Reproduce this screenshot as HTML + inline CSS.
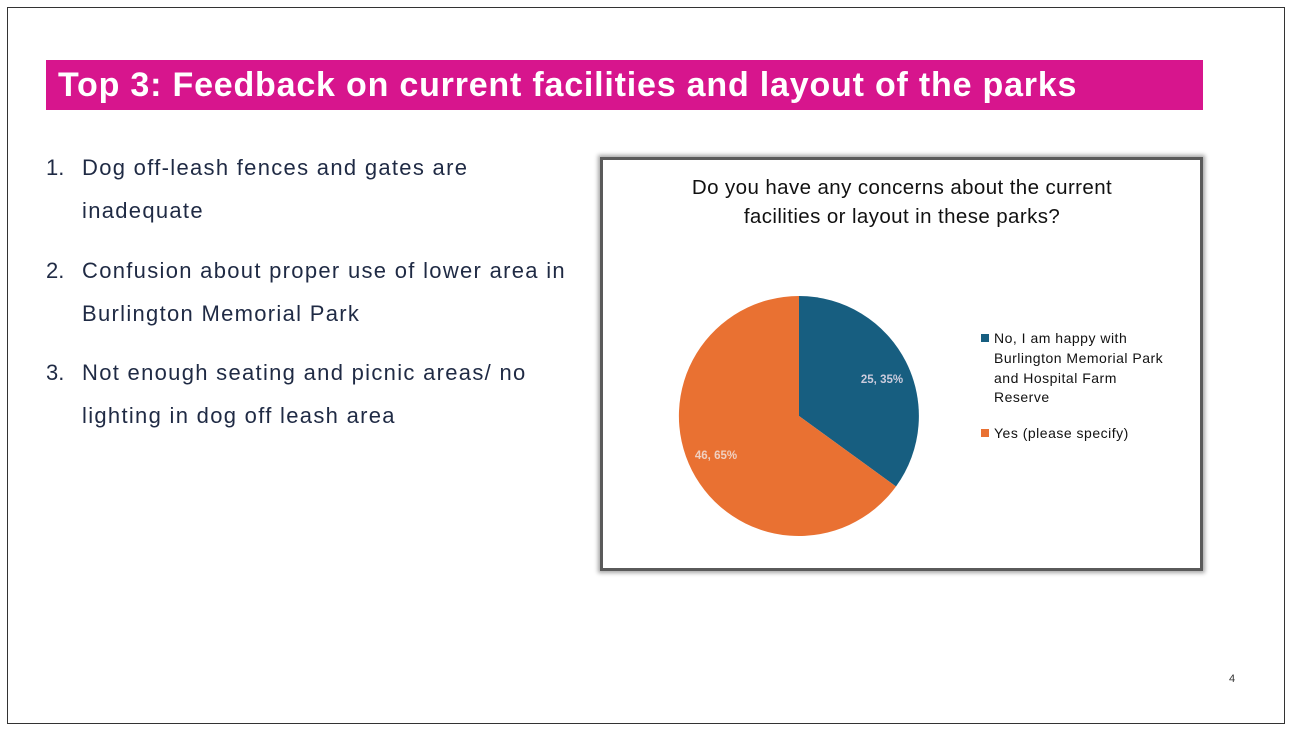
<!DOCTYPE html>
<html><head><style>
body{margin:0;width:1290px;height:730px;background:#fff;position:relative;font-family:"Liberation Sans",sans-serif;overflow:hidden}
.slide{position:absolute;left:7px;top:7px;width:1278px;height:717px;border:1px solid #333;box-sizing:border-box}
.title{position:absolute;left:46px;top:60px;width:1157px;height:50px;background:#D7158D;color:#fff;font-weight:bold;font-size:34px;line-height:50px;padding-left:12px;box-sizing:border-box;letter-spacing:0.8px;white-space:nowrap}
.item{position:absolute;left:46px;color:#1f2a44;font-size:22px;line-height:43px;letter-spacing:1.3px;white-space:nowrap}
.item span{position:absolute;left:0;letter-spacing:0}
.item div{margin-left:36px}
.chart{position:absolute;left:600px;top:157px;width:603px;height:414px;border:3px solid #5a5a5a;box-sizing:border-box;box-shadow:0 0 4px 2px rgba(0,0,0,0.35);background:#fff}
.pn{position:absolute;left:1229px;top:673px;font-size:11px;color:#333}
</style></head><body>
<div class="slide"></div>
<div class="title">Top 3: Feedback on current facilities and layout of the parks</div>
<div class="item" style="top:146px"><span>1.</span><div>Dog off-leash fences and gates are<br>inadequate</div></div>
<div class="item" style="top:249px"><span>2.</span><div>Confusion about proper use of lower area in<br>Burlington Memorial Park</div></div>
<div class="item" style="top:351px"><span>3.</span><div>Not enough seating and picnic areas/ no<br>lighting in dog off leash area</div></div>
<div class="chart"></div>
<svg style="position:absolute;left:0;top:0" width="1290" height="730">
<text x="902" y="194" text-anchor="middle" font-size="20.5" letter-spacing="0.4" fill="#111">Do you have any concerns about the current</text>
<text x="902" y="223" text-anchor="middle" font-size="20.5" letter-spacing="0.4" fill="#111">facilities or layout in these parks?</text>
<path d="M799,416 L799,296 A120,120 0 0 1 896,486.5 Z" fill="#175E80"/>
<path d="M799,416 L896,486.5 A120,120 0 1 1 799,296 Z" fill="#E97132"/>
<text x="882" y="383" text-anchor="middle" font-size="11.5" font-weight="bold" fill="#ccd">25, 35%</text>
<text x="716" y="459" text-anchor="middle" font-size="11.5" font-weight="bold" fill="#f0d0c0">46, 65%</text>
<rect x="981" y="334" width="8" height="8" fill="#175E80"/>
<rect x="981" y="429" width="8" height="8" fill="#E97132"/>
<g font-size="14" letter-spacing="0.5" fill="#111">
<text x="994" y="343">No, I am happy with</text>
<text x="994" y="363">Burlington Memorial Park</text>
<text x="994" y="383">and Hospital Farm</text>
<text x="994" y="402">Reserve</text>
<text x="994" y="438">Yes (please specify)</text>
</g>
</svg>
<div class="pn">4</div>
</body></html>
